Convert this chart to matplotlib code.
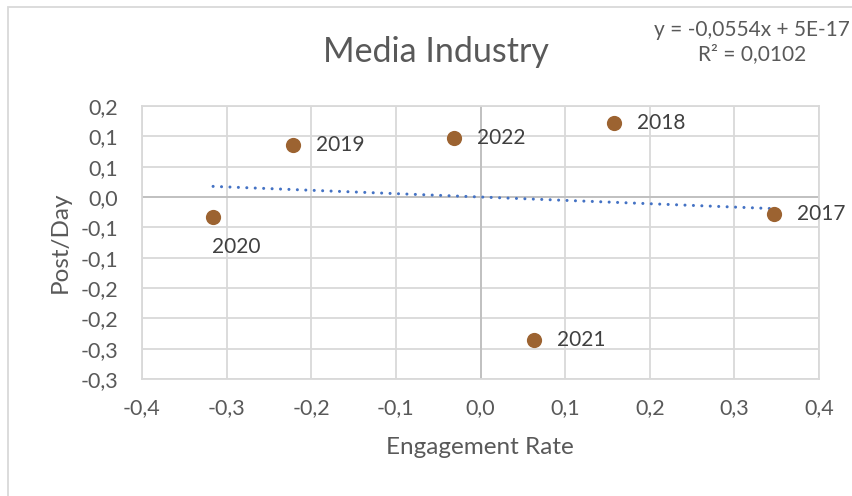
import matplotlib
matplotlib.use("Agg")
import matplotlib.pyplot as plt
from matplotlib.patches import Rectangle
import numpy as np

plt.rcParams["font.family"] = ["Lato", "DejaVu Sans"]

# Data
years = ["2017", "2018", "2019", "2020", "2021", "2022"]
engagement_rate = [0.3468, 0.1579, -0.2212, -0.3160, 0.0628, -0.0316]
posts_per_day = [-0.0283, 0.1225, 0.0859, -0.0337, -0.2360, 0.0974]

# Linear trendline as reported
trend_slope = -0.0554
trend_intercept = 5e-17
r_squared = 0.0102

x_ticks = [-0.4, -0.3, -0.2, -0.1, 0.0, 0.1, 0.2, 0.3, 0.4]
x_tick_labels = ["-0,4", "-0,3", "-0,2", "-0,1", "0,0", "0,1", "0,2", "0,3", "0,4"]
y_ticks = [-0.30, -0.25, -0.20, -0.15, -0.10, -0.05, 0.0, 0.05, 0.10, 0.15]
y_tick_labels = ["-0,3", "-0,3", "-0,2", "-0,2", "-0,1", "-0,1", "0,0", "0,1", "0,1", "0,2"]

TEXT = "#595959"
LABEL = "#404040"
GRID = "#d9d9d9"
ZERO = "#bfbfbf"
MARKER = "#9c6331"
TREND = "#4472c4"

W, H = 852, 496
fig = plt.figure(figsize=(W / 100, H / 100), dpi=100)
fig.patch.set_facecolor("white")

# chart border
fig.patches.append(Rectangle((7.5 / W, -0.1), 1.2, (H - 6.5) / H + 0.1,
                             transform=fig.transFigure, fill=False,
                             edgecolor=GRID, linewidth=1.3))

left, right, top, bottom = 142, 819, 106, 379
ax = fig.add_axes([left / W, 1 - bottom / H, (right - left) / W, (bottom - top) / H])

ax.set_xlim(x_ticks[0], x_ticks[-1])
ax.set_ylim(y_ticks[0], y_ticks[-1])
ax.set_xticks(x_ticks)
ax.set_xticklabels(x_tick_labels)
ax.set_yticks(y_ticks)
ax.set_yticklabels(y_tick_labels)
ax.tick_params(length=0, labelsize=15.5, labelcolor=TEXT)
ax.tick_params(axis="y", pad=17)
ax.tick_params(axis="x", pad=14)
ax.grid(True, color=GRID, linewidth=1.3)
ax.set_axisbelow(True)
for s in ax.spines.values():
    s.set_color(GRID)
    s.set_linewidth(1.3)

ax.axvline(0, color=ZERO, linewidth=1.3, zorder=1)
ax.axhline(0, color=ZERO, linewidth=1.3, zorder=1)

# trendline over the data range
xt = np.array([min(engagement_rate), max(engagement_rate)])
ax.plot(xt, trend_slope * xt + trend_intercept, color=TREND, linewidth=2.2,
        linestyle=(0, (0.01, 2.75)), dash_capstyle="round", zorder=3)

ax.scatter(engagement_rate, posts_per_day, s=120, color=MARKER, zorder=4,
           linewidths=0)

labels_below = {"2020"}
for yr, xv, yv in zip(years, engagement_rate, posts_per_day):
    if yr in labels_below:
        ax.annotate(yr, (xv, yv), xytext=(-0.5, -21.5), textcoords="offset points",
                    ha="left", va="center", fontsize=15, color=LABEL)
    else:
        ax.annotate(yr, (xv, yv), xytext=(16.5, 0), textcoords="offset points",
                    ha="left", va="center", fontsize=15, color=LABEL)


def comma(v, nd=4):
    return f"{v:.{nd}f}".replace(".", ",")


fig.text(436 / W, 1 - 52 / H, "Media Industry", ha="center", va="center",
         fontsize=24.5, color=TEXT)
fig.text(60 / W, 1 - 242 / H, "Post/Day", ha="center", va="center",
         rotation=90, fontsize=17.5, color=TEXT)
fig.text(480 / W, 1 - 448 / H, "Engagement Rate", ha="center", va="center",
         fontsize=17.5, color=TEXT)
fig.text(752 / W, 1 - 42 / H,
         f"y = {comma(trend_slope)}x + 5E-17\nR\u00b2 = {comma(r_squared)}",
         ha="center", va="center", fontsize=15, color=TEXT, linespacing=1.3)

fig.savefig("out.png", dpi=100)
